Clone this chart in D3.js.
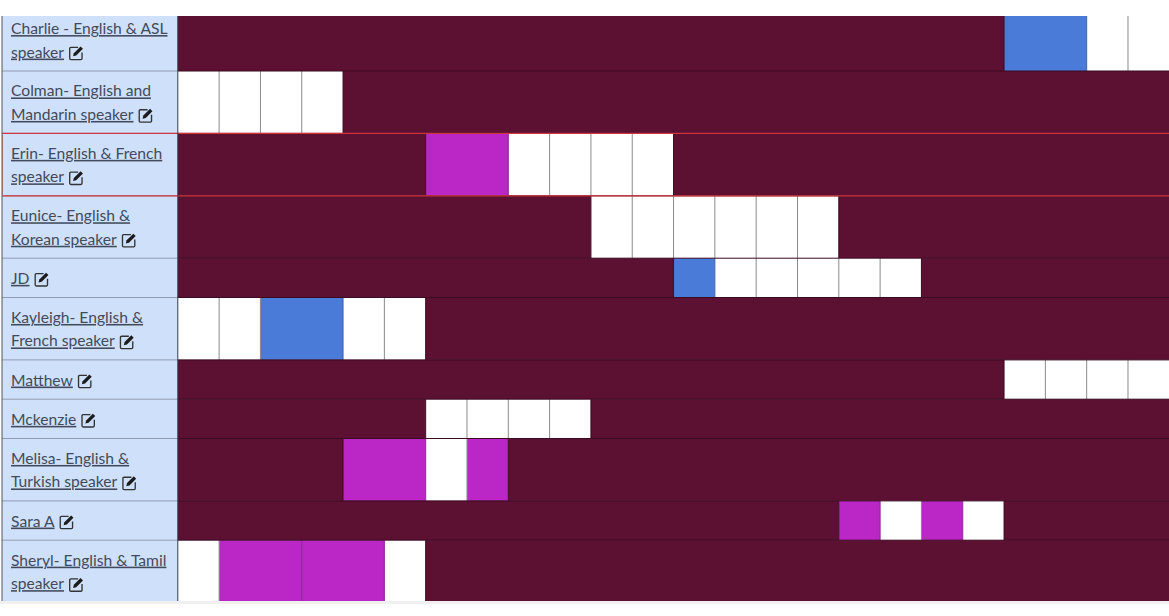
<!DOCTYPE html>
<meta charset="utf-8">
<style>
  html, body { margin: 0; padding: 0; background: #fff; overflow: hidden; }
  .label { font-family: Lato, sans-serif; font-size: 15.65px; fill: #414b5c; text-decoration: underline; }
</style>
<script src="https://d3js.org/d3.v7.min.js"></script>
<div id="grid"></div>
<script>
// row labels, one entry per printed line
var names = [
  ["Charlie - English & ASL", "speaker"],
  ["Colman- English and", "Mandarin speaker"],
  ["Erin- English & French", "speaker"],
  ["Eunice- English &", "Korean speaker"],
  ["JD"],
  ["Kayleigh- English &", "French speaker"],
  ["Matthew"],
  ["Mckenzie"],
  ["Melisa- English &", "Turkish speaker"],
  ["Sara A"],
  ["Sheryl- English & Tamil", "speaker"]
];

// booked cells per row as [status, slots]: b = busy, o = open, c = blue, p = purple
var charlie  = [["b",20],["c",2],["o",1],["o",1]];
var colman   = [["o",1],["o",1],["o",1],["o",1],["b",20]];
var erin     = [["b",6],["p",2],["o",1],["o",1],["o",1],["o",1],["b",12]];
var eunice   = [["b",10],["o",1],["o",1],["o",1],["o",1],["o",1],["o",1],["b",8]];
var jd       = [["b",12],["c",1],["o",1],["o",1],["o",1],["o",1],["o",1],["b",6]];
var kayleigh = [["o",1],["o",1],["c",2],["o",1],["o",1],["b",18]];
var matthew  = [["b",20],["o",1],["o",1],["o",1],["o",1]];
var mckenzie = [["b",6],["o",1],["o",1],["o",1],["o",1],["b",14]];
var melisa   = [["b",4],["p",2],["o",1],["p",1],["b",16]];
var sara     = [["b",16],["p",1],["o",1],["p",1],["o",1],["b",4]];
var sheryl   = [["o",1],["p",2],["p",2],["o",1],["b",18]];
var rows = [charlie, colman, erin, eunice, jd, kayleigh, matthew, mckenzie, melisa, sara, sheryl];
var slotCount = 24;

var colors = {b: "#5c1032", o: "#ffffff", c: "#4a7bd9", p: "#bb27c6"};
var edges  = {b: "#3a0a20", o: "#8a8a8a", c: "#3d5f9e", p: "#8c1f96"};

var W = 1169, H = 616, tableTop = 16, tableBottom = 601, labelW = 177.8;
var twoLine = 62.4, oneLine = 39.3;
var highlighted = 2; // Erin's row has the red outline

var svg = d3.select("#grid").append("svg")
  .attr("width", W).attr("height", H)
  .style("display", "block");

svg.append("clipPath").attr("id", "table")
  .append("rect").attr("x", 0).attr("y", tableTop).attr("width", W).attr("height", tableBottom - tableTop);

// faint shadow under the table
svg.append("rect").attr("x", 0).attr("y", tableBottom).attr("width", W).attr("height", 3).attr("fill", "#f0f0f0");

// row tops come from how many lines each label wraps to; first row is scrolled off the top
var heights = names.map(function(d) { return d.length > 1 ? twoLine : oneLine; });
var y0 = 71 - heights[0];
var tops = [y0].concat(Array.from(d3.cumsum(heights), function(d) { return y0 + d; }));

var x = d3.scaleLinear().domain([0, slotCount]).range([labelW, W + 0.3]);
var yRow = d3.scaleOrdinal().domain(d3.range(names.length)).range(tops);

var g = svg.append("g").attr("clip-path", "url(#table)");

var row = g.selectAll("g.row").data(rows).enter().append("g").attr("class", "row");

row.each(function(cells, i) {
  var r = d3.select(this), at = 0, yy = yRow(i), h = heights[i];

  // label cell
  r.append("rect").attr("x", 2).attr("y", yy).attr("width", labelW - 2).attr("height", h).attr("fill", "#cfe0fb");

  // slot cells
  cells.forEach(function(c) {
    r.append("rect")
      .attr("x", x(at)).attr("y", yy)
      .attr("width", x(at + c[1]) - x(at)).attr("height", h)
      .attr("fill", colors[c[0]]);
    at += c[1];
  });

  // right hand border of each cell
  at = 0;
  cells.forEach(function(c, j) {
    at += c[1];
    var next = cells[j + 1];
    if (!next) return;
    var edge = (c[0] == "b" || next[0] == "b") ? edges.b : (c[0] == "o" ? edges.o : edges[c[0]]);
    r.append("line")
      .attr("x1", x(at)).attr("x2", x(at)).attr("y1", yy).attr("y2", yy + h)
      .attr("stroke", edge).attr("stroke-width", 1);
  });

  // label text
  var lineGap = 23.5;
  var first = yy + h / 2 + 6 - (names[i].length - 1) * lineGap / 2;
  names[i].forEach(function(t, k) {
    var txt = r.append("text").attr("class", "label").attr("x", 11).attr("y", first + k * lineGap).text(t);
    if (k == names[i].length - 1) {
      var w = txt.node().getComputedTextLength();
      editIcon(r, 11 + w + 4, first + k * lineGap - 13);
    }
  });
});

// table rules on top of the cells
tops.slice(1, -1).forEach(function(t) {
  g.append("line").attr("x1", 2).attr("x2", labelW).attr("y1", t).attr("y2", t).attr("stroke", "#8f9bb0");
  g.append("line").attr("x1", labelW).attr("x2", W).attr("y1", t).attr("y2", t).attr("stroke", "#3a0a20");
});
[tops[highlighted], tops[highlighted + 1]].forEach(function(t) {
  g.append("line").attr("x1", 2).attr("x2", W).attr("y1", t).attr("y2", t).attr("stroke", "#d0343f").attr("stroke-width", 1.3);
});
g.append("line").attr("x1", 2.5).attr("x2", 2.5).attr("y1", tops[highlighted]).attr("y2", tops[highlighted + 1]).attr("stroke", "#e58a90");
g.append("line").attr("x1", labelW).attr("x2", labelW).attr("y1", tableTop).attr("y2", tableBottom).attr("stroke", "#333b48");
g.append("line").attr("x1", 2).attr("x2", 2).attr("y1", tableTop).attr("y2", tableBottom).attr("stroke", "#555");

// little pen-in-a-square edit icon
function editIcon(sel, ix, iy) {
  var ic = sel.append("g").attr("transform", "translate(" + ix + "," + iy + ") scale(1.12)");
  ic.append("path")
    .attr("d", "M9 2.5H2.5a1 1 0 0 0-1 1v9a1 1 0 0 0 1 1h9a1 1 0 0 0 1-1V7")
    .attr("fill", "none").attr("stroke", "#333").attr("stroke-width", 1.2);
  ic.append("path").attr("d", "M4.5 10.5l.7-2.8 6-6 2.1 2.1-6 6z").attr("fill", "#1c1c1c");
}
</script>
